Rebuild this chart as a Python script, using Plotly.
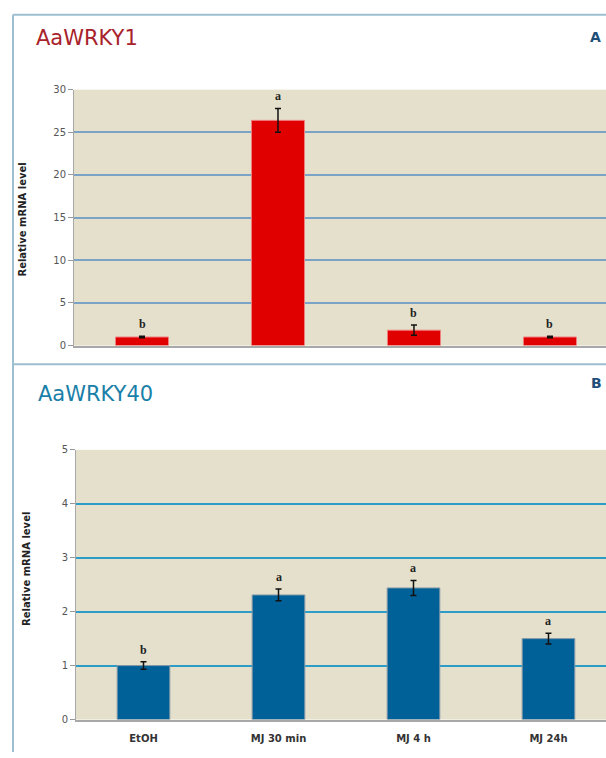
import plotly.graph_objects as go

W, H = 606, 758

categories = ["EtOH", "MJ 30 min", "MJ 4 h", "MJ 24h"]
wrky1_vals = [1.0, 26.4, 1.8, 1.0]
wrky1_err = [0.1, 1.4, 0.6, 0.1]
wrky1_letters = ["b", "a", "b", "b"]
wrky40_vals = [1.0, 2.31, 2.44, 1.5]
wrky40_err = [0.07, 0.11, 0.14, 0.10]
wrky40_letters = ["b", "a", "a", "a"]
y1_ticks = [0, 5, 10, 15, 20, 25, 30]
y2_ticks = [0, 1, 2, 3, 4, 5]

def px(x):
    return x / W

def py(y):
    return 1 - y / H

fig = go.Figure()
fig.add_trace(go.Bar(
    x=categories, y=wrky1_vals, width=0.39, xaxis="x", yaxis="y",
    marker=dict(color="#e00000", line=dict(color="#f08080", width=1)),
    error_y=dict(type="data", array=wrky1_err, color="#111111", thickness=1.5, width=3),
    showlegend=False, hoverinfo="skip"))
fig.add_trace(go.Bar(
    x=categories, y=wrky40_vals, width=0.39, xaxis="x2", yaxis="y2",
    marker=dict(color="#006098", line=dict(color="#8a9aa8", width=1)),
    error_y=dict(type="data", array=wrky40_err, color="#111111", thickness=1.5, width=3),
    showlegend=False, hoverinfo="skip"))

ann = []
for c, v, e, l in zip(categories, wrky1_vals, wrky1_err, wrky1_letters):
    ann.append(dict(x=c, y=v + e, xref="x", yref="y", text=l, showarrow=False,
                    yanchor="bottom", yshift=3,
                    font=dict(family="Liberation Serif", size=12, color="#222222", weight="bold")))
for c, v, e, l in zip(categories, wrky40_vals, wrky40_err, wrky40_letters):
    ann.append(dict(x=c, y=v + e, xref="x2", yref="y2", text=l, showarrow=False,
                    yanchor="bottom", yshift=3,
                    font=dict(family="Liberation Serif", size=12, color="#222222", weight="bold")))

# titles
ann.append(dict(x=px(34), y=py(33), xref="paper", yref="paper", text="AaWRKY1",
                showarrow=False, xanchor="left", yanchor="middle",
                font=dict(family="DejaVu Sans", size=21, color="#a8232b")))
ann.append(dict(x=px(36), y=py(394), xref="paper", yref="paper", text="AaWRKY40",
                showarrow=False, xanchor="left", yanchor="middle",
                font=dict(family="DejaVu Sans", size=21, color="#1a7fa8")))
ann.append(dict(x=px(595), y=py(32), xref="paper", yref="paper", text="<b>A</b>",
                showarrow=False, xanchor="center", yanchor="middle",
                font=dict(family="DejaVu Sans", size=14, color="#1f4e79")))
ann.append(dict(x=px(596), y=py(383), xref="paper", yref="paper", text="<b>B</b>",
                showarrow=False, xanchor="center", yanchor="middle",
                font=dict(family="DejaVu Sans", size=14, color="#1f4e79")))
# y titles
ann.append(dict(x=px(23), y=py(217), xref="paper", yref="paper", text="<b>Relative mRNA level</b>",
                showarrow=False, textangle=-90, xanchor="center", yanchor="middle",
                font=dict(family="DejaVu Sans", size=10, color="#222222")))
ann.append(dict(x=px(27), y=py(572), xref="paper", yref="paper", text="<b>Relative mRNA level</b>",
                showarrow=False, textangle=-90, xanchor="center", yanchor="middle",
                font=dict(family="DejaVu Sans", size=10, color="#222222")))

border = "#9dbfd0"
shapes = [
    dict(type="line", xref="paper", yref="paper", x0=px(13), x1=px(13), y0=py(9), y1=0,
         line=dict(color=border, width=2)),
    dict(type="line", xref="paper", yref="paper", x0=px(13), x1=1, y0=py(9), y1=py(9),
         line=dict(color=border, width=2)),
    dict(type="line", xref="paper", yref="paper", x0=px(13), x1=1, y0=py(364), y1=py(364),
         line=dict(color=border, width=2)),
]

axis_font = dict(family="DejaVu Sans", size=10, color="#555555")
fig.update_layout(
    width=W, height=H, margin=dict(l=0, r=0, t=0, b=0),
    paper_bgcolor="white", plot_bgcolor="#e4e0cc",
    bargap=0.6, annotations=ann, shapes=shapes,
    xaxis=dict(domain=[px(74), 1], range=[-0.5, 3.412], type="category",
               showticklabels=False, showline=True, linecolor="#a8a8a8", linewidth=2,
               ticks="", showgrid=False, anchor="y"),
    yaxis=dict(domain=[py(345), py(85)], range=[0, 30], tickvals=y1_ticks,
               showline=True, linecolor="#a8a8a8", linewidth=1,
               ticks="outside", ticklen=5, tickcolor="#999999",
               gridcolor="#7aa3c6", gridwidth=2, zeroline=False,
               tickfont=axis_font, anchor="x"),
    xaxis2=dict(domain=[px(76), 1], range=[-0.5, 3.426], type="category",
                showline=True, linecolor="#a8a8a8", linewidth=2, ticks="",
                showgrid=False, anchor="y2", ticklabelstandoff=8,
                tickfont=dict(family="DejaVu Sans", size=10, color="#333333", weight="bold")),
    yaxis2=dict(domain=[py(725), py(451)], range=[0, 5], tickvals=y2_ticks,
                showline=True, linecolor="#a8a8a8", linewidth=1,
                ticks="outside", ticklen=5, tickcolor="#999999",
                gridcolor="#2c9cc8", gridwidth=2, zeroline=False,
                tickfont=axis_font, anchor="x2"),
)

fig.write_html("out.html", config={"displayModeBar": False},
               post_script="document.body.style.margin='0';document.body.style.overflow='hidden';")
